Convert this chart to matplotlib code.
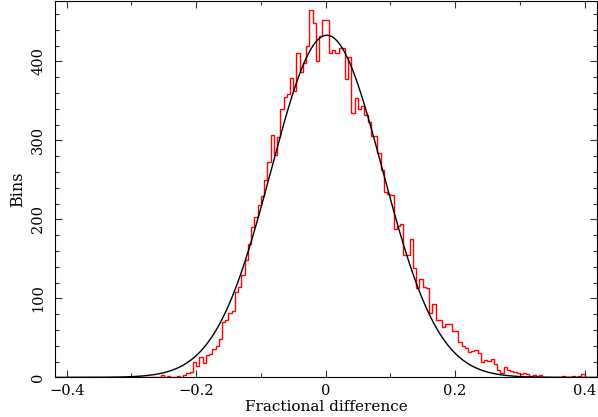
import matplotlib
matplotlib.use("Agg")
import matplotlib.pyplot as plt
import numpy as np
from matplotlib.ticker import MultipleLocator, FuncFormatter

# histogram: 0.005-wide bins from -0.4 to 0.4, counts
bin_width = 0.005
bin_start = -0.4
counts = [
    0, 0, 0, 0, 0, 0, 0, 0, 0, 0, 0, 0, 0, 0, 0, 0, 0, 0, 0, 0,
    0, 0, 0, 0, 0, 0, 0, 0, 0, 3, 1, 2, 1, 1, 2, 1, 3, 6, 7, 19,
    14, 26, 18, 28, 29, 36, 40, 48, 70, 72, 82, 84, 108, 115, 130, 148, 169, 190, 203, 218,
    229, 250, 272, 307, 282, 304, 340, 355, 359, 379, 362, 410, 387, 398, 420, 465, 449, 401, 432, 452,
    452, 411, 414, 411, 417, 417, 378, 406, 334, 354, 340, 343, 332, 323, 305, 305, 284, 262, 234, 232,
    231, 188, 191, 194, 155, 155, 175, 139, 113, 125, 114, 113, 82, 93, 73, 73, 64, 67, 68, 59,
    59, 45, 40, 37, 32, 34, 35, 31, 19, 22, 21, 23, 17, 9, 6, 13, 9, 8, 7, 5,
    4, 5, 4, 2, 3, 2, 3, 1, 1, 1, 1, 0, 1, 2, 1, 1, 2, 1, 2, 4,
]

# gaussian fit parameters
fit_amp = 433.0
fit_mean = 0.002
fit_sigma = 0.086

plt.rcParams["font.family"] = "DejaVu Serif"
plt.rcParams["axes.unicode_minus"] = True

fig = plt.figure(figsize=(5.98, 4.17), dpi=100)
ax = fig.add_axes([0.092, 0.095, 0.906, 0.902])

edges = bin_start + bin_width * np.arange(len(counts) + 1)
ax.stairs(counts, edges, color="red", lw=1.0)

xs = np.linspace(-0.42, 0.42, 600)
ax.plot(xs, fit_amp * np.exp(-0.5 * ((xs - fit_mean) / fit_sigma) ** 2), color="black", lw=1.0)

ax.set_xlim(-0.418, 0.419)
ax.set_ylim(0, 476)

ax.xaxis.set_major_locator(MultipleLocator(0.2))
ax.xaxis.set_minor_locator(MultipleLocator(0.1))
ax.yaxis.set_major_locator(MultipleLocator(100))
ax.yaxis.set_minor_locator(MultipleLocator(20))


def fmt_x(v, pos):
    if abs(v) < 1e-9:
        return "0"
    return f"{v:.1f}".replace("-", "\u2212")


ax.xaxis.set_major_formatter(FuncFormatter(fmt_x))
ax.tick_params(which="both", direction="in", top=True, right=True, width=0.8, color="#333333")
ax.tick_params(which="major", length=5)
ax.tick_params(which="minor", length=3)
ax.tick_params(axis="x", labelsize=10.5, pad=5)
ax.tick_params(axis="y", labelsize=10.5, pad=7, labelrotation=90)
for lab in ax.get_yticklabels():
    lab.set_va("center")

for sp in ax.spines.values():
    sp.set_linewidth(0.8)

ax.set_xlabel("Fractional difference", fontsize=11, labelpad=1)
ax.set_ylabel("Bins", fontsize=11.5, labelpad=4)

fig.savefig("out.png", dpi=100)
